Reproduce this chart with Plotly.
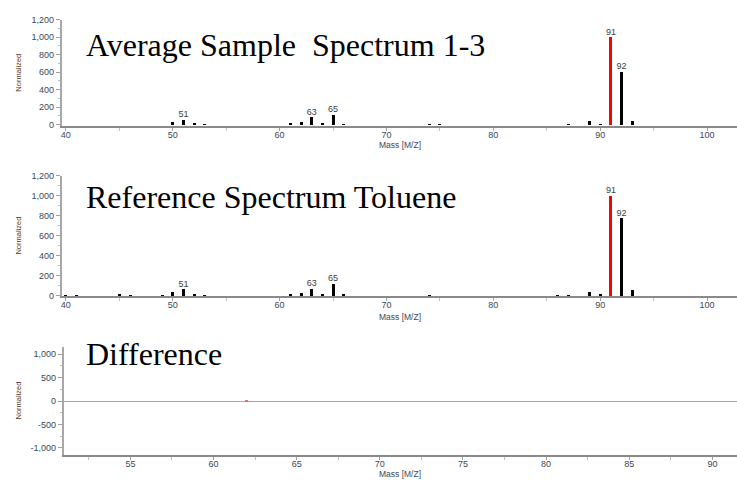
import plotly.graph_objects as go

# ---------------- data ----------------
sample_mass = [50, 51, 52, 53, 61, 62, 63, 64, 65, 66, 74, 75, 87, 89, 90, 91, 92, 93]
sample_int = [38, 62, 12, 5, 12, 38, 90, 12, 118, 10, 8, 5, 5, 40, 10, 1000, 610, 40]

ref_mass = [40, 41, 45, 46, 49, 50, 51, 52, 53, 61, 62, 63, 64, 65, 66, 74, 86, 87, 89, 90, 91, 92, 93]
ref_int = [4, 6, 8, 5, 5, 40, 65, 12, 5, 8, 28, 70, 10, 120, 10, 5, 5, 5, 38, 20, 1000, 775, 55]

diff_mass = [62]
diff_int = [20]

label_mass_sample = [51, 63, 65, 91, 92]
label_mass_ref = [51, 63, 65, 91, 92]

base_peak = 91

titles = ["Average Sample\u00a0\u00a0Spectrum 1-3", "Reference Spectrum Toluene", "Difference"]
x_title = "Mass [M/Z]"
y_title = "Normalized"

y_ticks_spec = [0, 200, 400, 600, 800, 1000, 1200]
y_ticks_spec_text = ["0", "200", "400", "600", "800", "1,000", "1,200"]
y_ticks_diff = [-1000, -500, 0, 500, 1000]
y_ticks_diff_text = ["-1,000", "-500", "0", "500", "1,000"]

# ---------------- styling ----------------
W, H = 737, 485
TICK_FONT = dict(family="Liberation Sans, Arial, sans-serif", size=9, color="#3b4756")
AX_COLOR = "#8a8a8a"
BLACK = "#000000"
RED = "#ff0000"


def px_x(p):
    return p / W


def px_y(p):
    return (H - p) / H


def colors(masses):
    return [RED if m == base_peak else BLACK for m in masses]


fig = go.Figure()

# panel 1
fig.add_trace(go.Bar(x=sample_mass, y=sample_int, width=0.28, marker=dict(color=colors(sample_mass), line_width=0),
                     xaxis="x", yaxis="y", showlegend=False))
lab_y1 = [sample_int[sample_mass.index(m)] for m in label_mass_sample]
fig.add_trace(go.Scatter(x=label_mass_sample, y=lab_y1, mode="text", text=[str(m) for m in label_mass_sample],
                         textposition="top center", textfont=dict(family="Liberation Sans, Arial", size=9, color="#404040"),
                         xaxis="x", yaxis="y", showlegend=False, cliponaxis=False))

# panel 2
fig.add_trace(go.Bar(x=ref_mass, y=ref_int, width=0.28, marker=dict(color=colors(ref_mass), line_width=0),
                     xaxis="x2", yaxis="y2", showlegend=False))
lab_y2 = [ref_int[ref_mass.index(m)] for m in label_mass_ref]
fig.add_trace(go.Scatter(x=label_mass_ref, y=lab_y2, mode="text", text=[str(m) for m in label_mass_ref],
                         textposition="top center", textfont=dict(family="Liberation Sans, Arial", size=9, color="#404040"),
                         xaxis="x2", yaxis="y2", showlegend=False, cliponaxis=False))

# panel 3
fig.add_trace(go.Bar(x=diff_mass, y=diff_int, width=0.18, marker=dict(color="#ff6060", line_width=0),
                     xaxis="x3", yaxis="y3", showlegend=False))

common_x = dict(showgrid=False, zeroline=False, showline=True, linecolor=AX_COLOR, linewidth=2,
                ticks="outside", ticklen=3, tickcolor="#a0a0a0", tickwidth=1, tickfont=TICK_FONT,
                ticklabelstandoff=-4)
common_y = dict(showgrid=False, zeroline=False, showline=True, linecolor="#a8a8a8", linewidth=2,
                ticks="outside", ticklen=4, tickcolor="#a0a0a0", tickwidth=1, tickfont=TICK_FONT)

fig.update_layout(
    width=W, height=H, margin=dict(l=0, r=0, t=0, b=0),
    paper_bgcolor="white", plot_bgcolor="white", bargap=0,
    xaxis=dict(common_x, domain=[px_x(61), 1.0], range=[39.63, 102.8], tickvals=[40, 50, 60, 70, 80, 90, 100],
               minor=dict(dtick=5, tick0=0, ticks="outside", ticklen=3, tickcolor="#c0c0c0"), anchor="y"),
    yaxis=dict(common_y, domain=[px_y(123), px_y(15)], range=[-12, 1200], tickvals=y_ticks_spec,
               ticktext=y_ticks_spec_text,
               minor=dict(dtick=100, tick0=0, ticks="outside", ticklen=2, tickcolor="#c0c0c0"), anchor="x"),
    xaxis2=dict(common_x, domain=[px_x(61), 1.0], range=[39.63, 102.8], tickvals=[40, 50, 60, 70, 80, 90, 100],
                minor=dict(dtick=5, tick0=0, ticks="outside", ticklen=3, tickcolor="#c0c0c0"), anchor="y2"),
    yaxis2=dict(common_y, domain=[px_y(297), px_y(174)], range=[-10, 1200], tickvals=y_ticks_spec,
                ticktext=y_ticks_spec_text,
                minor=dict(dtick=100, tick0=0, ticks="outside", ticklen=2, tickcolor="#c0c0c0"), anchor="x2"),
    xaxis3=dict(common_x, domain=[px_x(63), 1.0], range=[51.0, 91.48], tickvals=[55, 60, 65, 70, 75, 80, 85, 90],
                minor=dict(dtick=2.5, tick0=0, ticks="outside", ticklen=3, tickcolor="#c0c0c0"), anchor="y3"),
    yaxis3=dict(common_y, domain=[px_y(459), px_y(348)], range=[-1160, 1160], tickvals=y_ticks_diff,
                ticktext=y_ticks_diff_text, zeroline=True, zerolinecolor="#a8a8a8", zerolinewidth=1,
                minor=dict(dtick=250, tick0=0, ticks="outside", ticklen=2, tickcolor="#c0c0c0"), anchor="x3"),
)

title_y = [41, 196, 356]
ann = []
for t, yy in zip(titles, title_y):
    ann.append(dict(text=t, x=px_x(83), y=px_y(yy), xref="paper", yref="paper", xanchor="left", yanchor="middle",
                    showarrow=False, font=dict(family="Liberation Serif, Times New Roman, serif", size=32, color="black")))
for yy in [143, 318, 478]:
    ann.append(dict(text=x_title, x=px_x(400), y=px_y(yy), xref="paper", yref="paper", xanchor="center",
                    yanchor="middle", showarrow=False,
                    font=dict(family="Liberation Sans, Arial", size=8.5, color="#3b4756")))
for yy in [69, 235, 403]:
    ann.append(dict(text=y_title, x=px_x(18), y=px_y(yy), xref="paper", yref="paper", xanchor="center",
                    yanchor="middle", showarrow=False, textangle=-90,
                    font=dict(family="Liberation Sans, Arial", size=7.5, color="#5a3a28")))
fig.update_layout(annotations=ann)

fig.write_html("out.html", config={"displayModeBar": False},
               post_script="document.body.style.margin='0';document.body.style.overflow='hidden';")
